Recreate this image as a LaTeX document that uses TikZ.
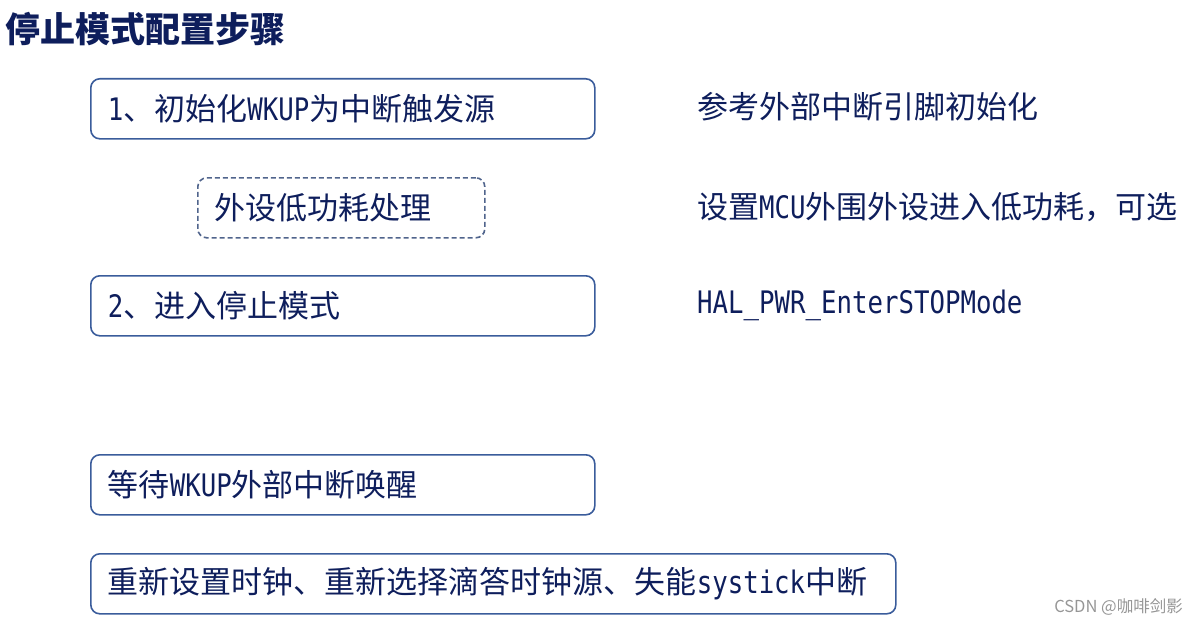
\documentclass[tikz,border=0pt]{standalone}
\usepackage{fontspec}
\setmainfont{Noto Sans CJK SC}
\newfontfamily\cjk{Noto Sans CJK SC}
\newfontfamily\latmono[FakeStretch=0.83]{DejaVu Sans Mono}
\newcommand\latn[1]{{\latmono #1}}
\definecolor{ink}{RGB}{14,30,92}
\definecolor{boxblue}{RGB}{58,92,155}
\definecolor{dashblue}{RGB}{80,100,140}
\definecolor{wm}{RGB}{150,150,150}
\begin{document}
\begin{tikzpicture}[x=1pt,y=-1pt,
  body/.style={font=\cjk\fontsize{31}{36}\selectfont, text=ink},
  stepbox/.style={body, draw=boxblue, line width=1.6pt, rounded corners=9pt,
    anchor=north west, minimum height=60pt, inner xsep=17pt, inner ysep=0pt, align=left},
  optbox/.style={stepbox, draw=dashblue, dash pattern=on 5pt off 3pt},
  note/.style={body, anchor=west, inner sep=0pt},
]
\useasboundingbox (0,0) rectangle (1197,626);
\node[anchor=west, inner sep=0pt, text=ink, font=\cjk\bfseries\fontsize{35}{40}\selectfont] (title) at (5,29) {停止模式配置步骤};

\node[stepbox, text width=470pt] (s1) at (90,78) {\latn{1}、初始化\latn{WKUP}为中断触发源};
\node[optbox, text width=253pt] (s1b) at (197,177) {外设低功耗处理};
\node[stepbox, text width=470pt] (s2) at (90,275) {\latn{2}、进入停止模式};
\node[stepbox, text width=470pt] (s3) at (90,454) {等待\latn{WKUP}外部中断唤醒};
\node[stepbox, text width=771pt] (s4) at (90,553) {重新设置时钟、重新选择滴答时钟源、失能\latn{systick}中断};

\node[note] (n1) at (697,107) {参考外部中断引脚初始化};
\node[note] (n2) at (697,207) {设置\latn{MCU}外围外设进入低功耗，可选};
\node[note] (n3) at (697,305) {\latn{HAL\_PWR\_EnterSTOPMode}};

\node[anchor=east, inner sep=0pt, text=wm, font=\cjk\fontsize{16.5}{19}\selectfont] (wmark) at (1183,607) {CSDN @咖啡剑影};
\end{tikzpicture}
\end{document}
